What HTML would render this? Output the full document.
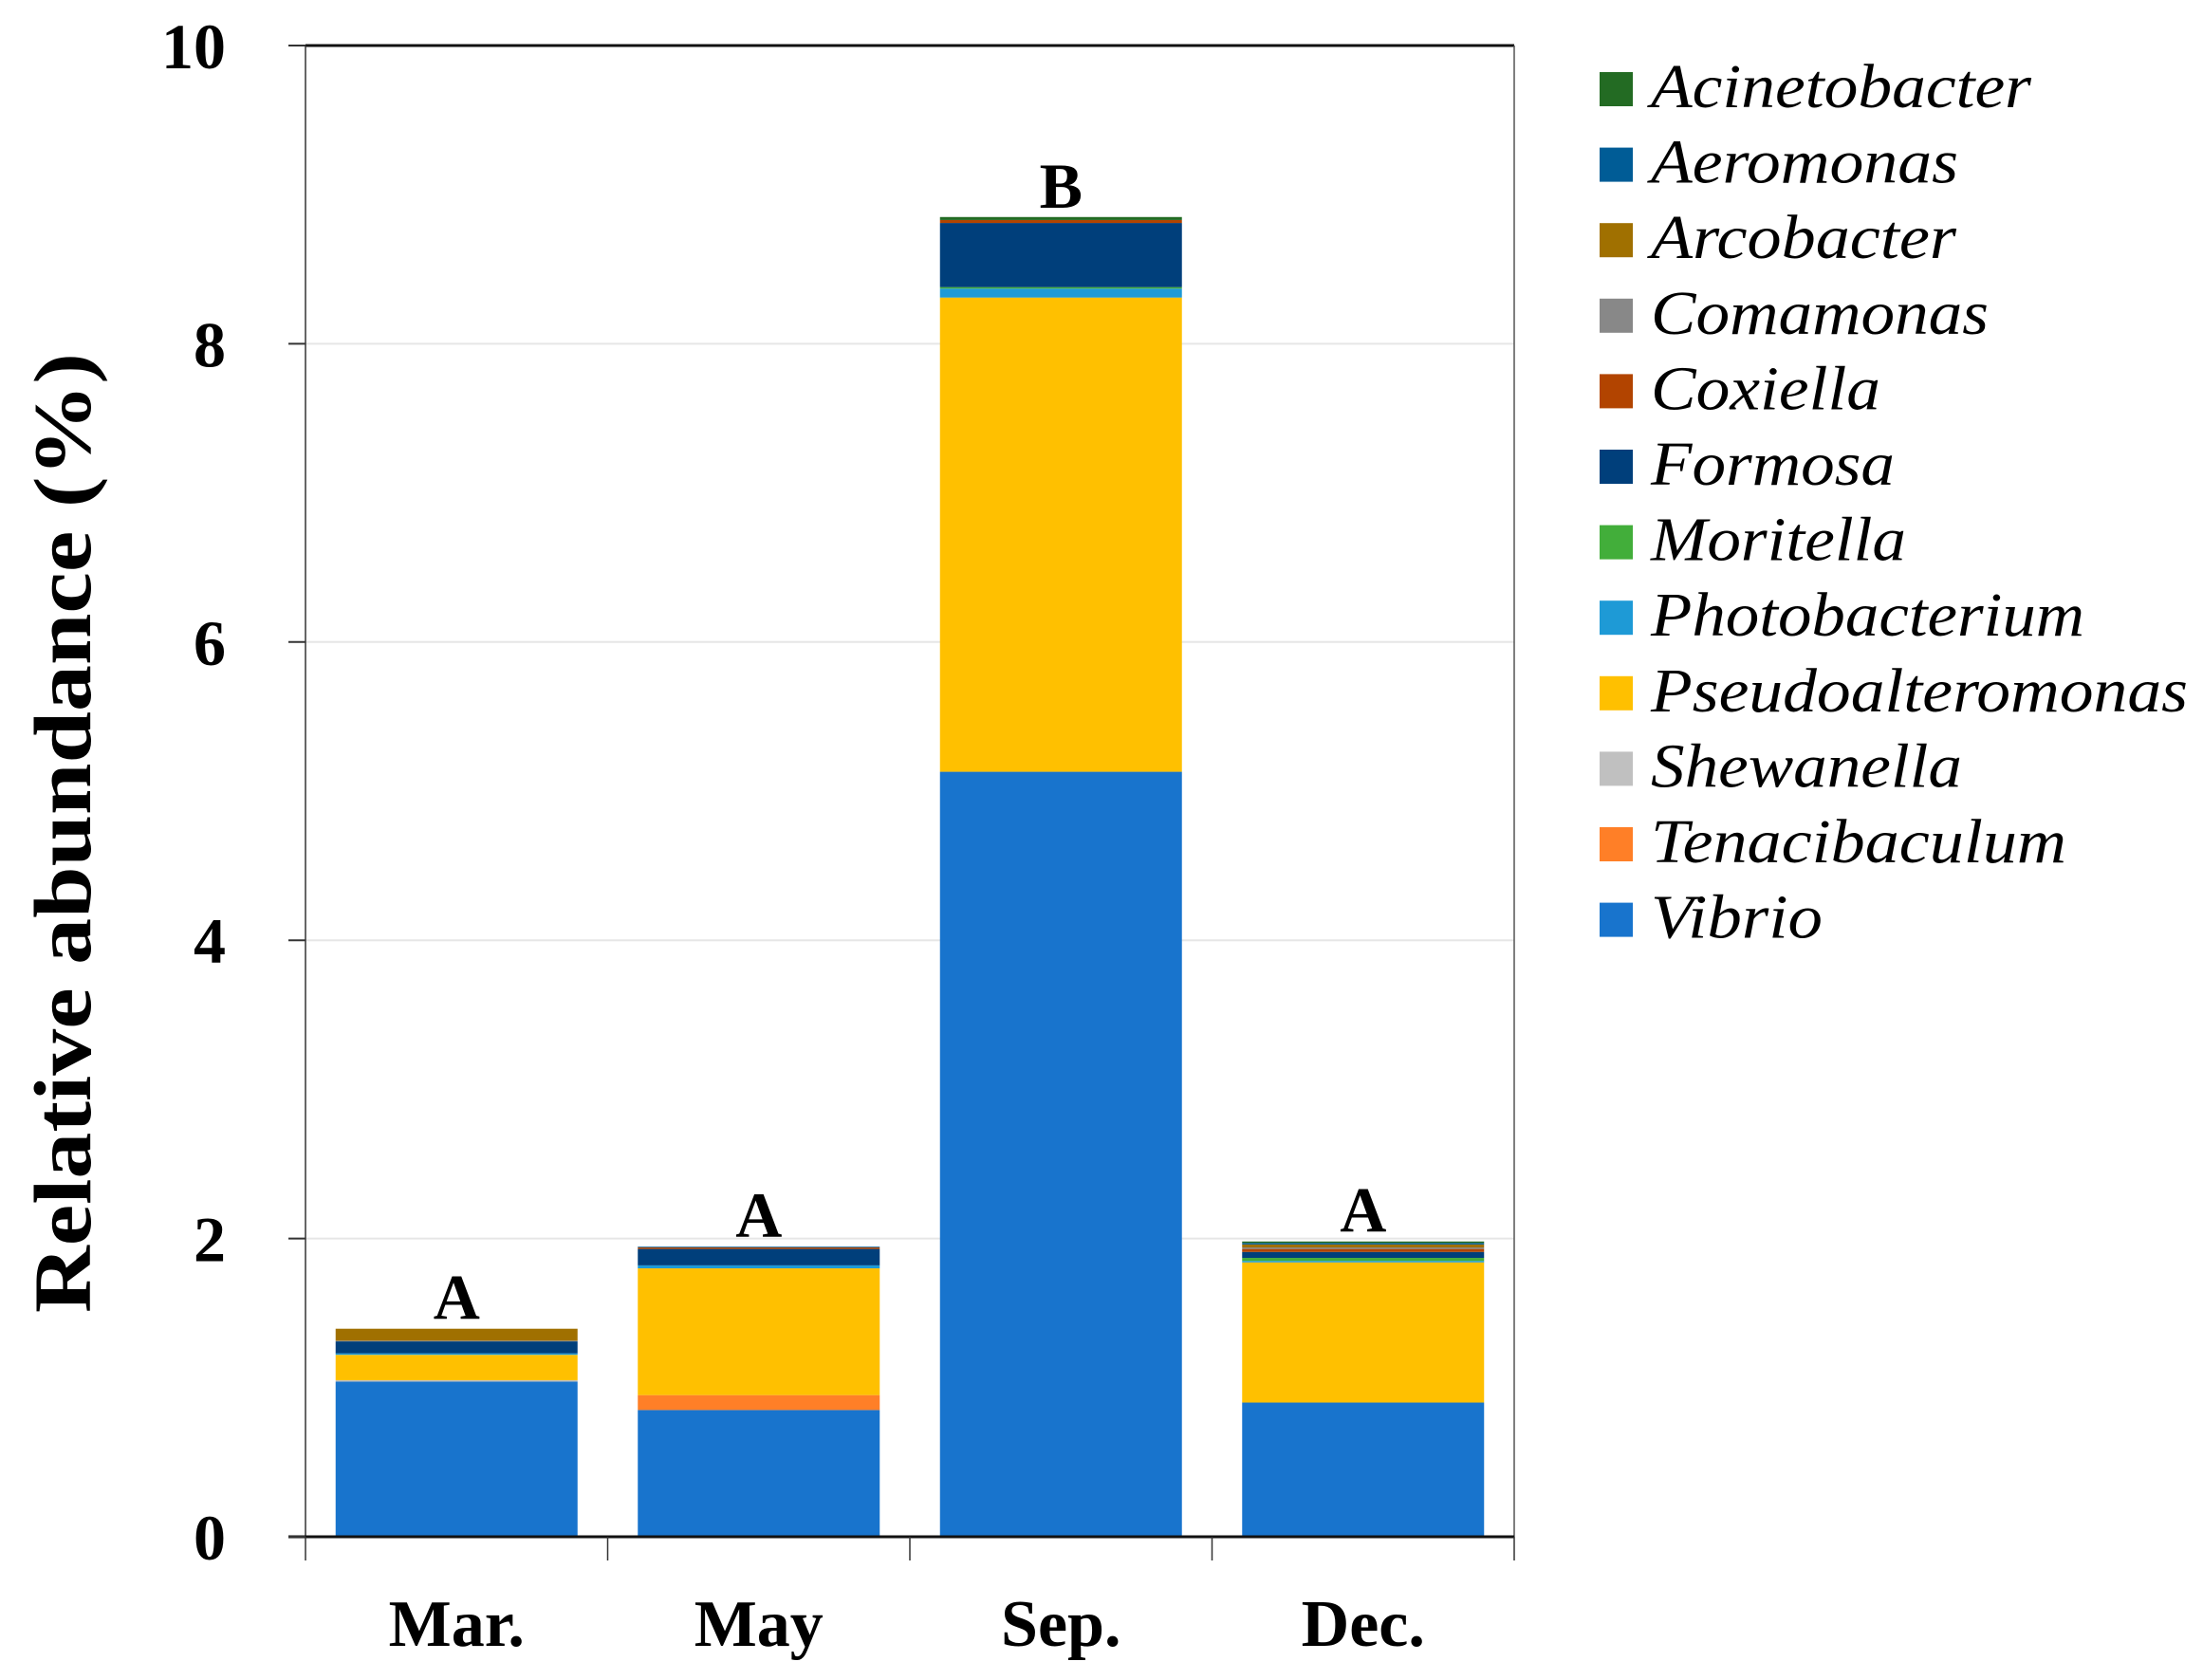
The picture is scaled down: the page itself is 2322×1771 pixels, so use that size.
<!DOCTYPE html>
<html><head><meta charset="utf-8"><style>
html,body{margin:0;padding:0;background:#fff;}
svg{display:block;}
text{font-family:"Liberation Serif",serif;}
</style></head><body>
<svg id="chart" width="2322" height="1771" viewBox="0 0 2322 1771" xmlns="http://www.w3.org/2000/svg">
<g id="grid"></g>
<g id="bars"></g>
<g id="axes"></g>
<g id="legend"></g>
<text transform="translate(95,878) rotate(-90)" text-anchor="middle" font-weight="bold" font-size="86" textLength="1012" lengthAdjust="spacingAndGlyphs">Relative abundance (%)</text>
</svg>
<script>
const categories = ["Mar.", "May", "Sep.", "Dec."];
const sigLetters = ["A", "A", "B", "A"];
const seriesNames = ["Vibrio","Tenacibaculum","Shewanella","Pseudoalteromonas","Photobacterium","Moritella","Formosa","Coxiella","Comamonas","Arcobacter","Aeromonas","Acinetobacter"];
const vibrio = [1.04, 0.85, 5.13, 0.90];
const tenacibaculum = [0, 0.10, 0, 0];
const shewanella = [0.01, 0, 0, 0];
const pseudoalteromonas = [0.17, 0.85, 3.18, 0.94];
const photobacterium = [0.01, 0.02, 0.06, 0.01];
const moritella = [0, 0, 0.01, 0.02];
const formosa = [0.08, 0.11, 0.43, 0.04];
const coxiella = [0, 0.01, 0.02, 0.02];
const comamonas = [0.005, 0, 0, 0.01];
const arcobacter = [0.08, 0, 0, 0.02];
const aeromonas = [0, 0.005, 0, 0.01];
const acinetobacter = [0, 0, 0.02, 0.01];
const yTicks = [0, 2, 4, 6, 8, 10];

const seriesValues = [vibrio,tenacibaculum,shewanella,pseudoalteromonas,photobacterium,moritella,formosa,coxiella,comamonas,arcobacter,aeromonas,acinetobacter];
const colors = ["#1874CD","#FF7F27","#C0C0C0","#FFC000","#1E9AD6","#42AE3A","#003F7B","#B24400","#888888","#A07000","#005C96","#236B23"];
const legendWidths = {"Acinetobacter":401,"Aeromonas":324,"Arcobacter":322,"Comamonas":356,"Coxiella":242,"Formosa":257,"Moritella":269,"Photobacterium":457,"Pseudoalteromonas":566,"Shewanella":328,"Tenacibaculum":438,"Vibrio":181};

const NS = "http://www.w3.org/2000/svg";
const L = 322, R = 1596, T = 48, B = 1620, yMax = 10;
const y = v => B - (v / yMax) * (B - T);
const bandW = (R - L) / categories.length;
const xBand = i => L + i * bandW;
const barW = 255;
function mk(tag, attrs, parent){ const e = document.createElementNS(NS, tag); for (const k in attrs) e.setAttribute(k, attrs[k]); parent.appendChild(e); return e; }

const grid = document.getElementById('grid');
yTicks.forEach(t => {
  if (t > 0 && t < yMax) {
    const g = mk('line', {x1:L, x2:R, y1:y(t), y2:y(t), stroke:'#e6e6e6', 'stroke-width':2}, grid);
    
    
  }
});

const bars = document.getElementById('bars');
categories.forEach((c, i) => {
  let acc = 0;
  const x0 = xBand(i) + (bandW - barW) / 2;
  seriesValues.forEach((arr, s) => {
    const v = arr[i];
    if (v > 0) {
      const r = mk('rect', {x:x0, y:y(acc + v), width:barW, height:y(acc) - y(acc + v), fill:colors[s]}, bars);
      
      
    }
    acc += v;
  });
  const lt = mk('text', {x:x0 + barW / 2, y:y(acc) - 10, 'text-anchor':'middle', 'font-weight':'bold', 'font-size':68}, bars);
  lt.textContent = sigLetters[i];
  
  
});

const axes = document.getElementById('axes');
mk('line', {x1:L, x2:R, y1:T, y2:T, stroke:'#111', 'stroke-width':3}, axes);
mk('line', {x1:R, x2:R, y1:T, y2:B, stroke:'#555', 'stroke-width':1.5}, axes);
mk('line', {x1:L, x2:L, y1:T, y2:B, stroke:'#333', 'stroke-width':1.5}, axes);
const xa = mk('line', {x1:L - 18, x2:R, y1:B, y2:B, stroke:'#111', 'stroke-width':3}, axes);


yTicks.forEach(t => {
  mk('line', {x1:L - 18, x2:L, y1:y(t), y2:y(t), stroke:'#333', 'stroke-width':2}, axes);
  const tl = mk('text', {x:238, y:y(t) + 24, 'text-anchor':'end', 'font-weight':'bold', 'font-size':68}, axes);
  tl.textContent = t;
  
  
});
for (let i = 0; i <= categories.length; i++) {
  mk('line', {x1:xBand(i), x2:xBand(i), y1:B, y2:B + 25, stroke:'#333', 'stroke-width':1.5}, axes);
}
categories.forEach((c, i) => {
  const cl = mk('text', {x:xBand(i) + bandW / 2, y:1735, 'text-anchor':'middle', 'font-weight':'bold', 'font-size':70}, axes);
  cl.textContent = c;
  
  
});

const legend = document.getElementById('legend');
const legendOrder = seriesNames.map((n, i) => i).sort((a, b) => seriesNames[a].localeCompare(seriesNames[b]));
legendOrder.forEach((s, k) => {
  const cy = 94 + k * 79.6;
  const g = mk('g', {}, legend);
  
  
  mk('rect', {x:1686, y:cy - 18, width:35, height:36, fill:colors[s]}, g);
  const t = mk('text', {x:1740, y:cy + 19, 'font-style':'italic', 'font-size':66, textLength:legendWidths[seriesNames[s]], lengthAdjust:'spacingAndGlyphs'}, g);
  t.textContent = seriesNames[s];
});
</script>
</body></html>
